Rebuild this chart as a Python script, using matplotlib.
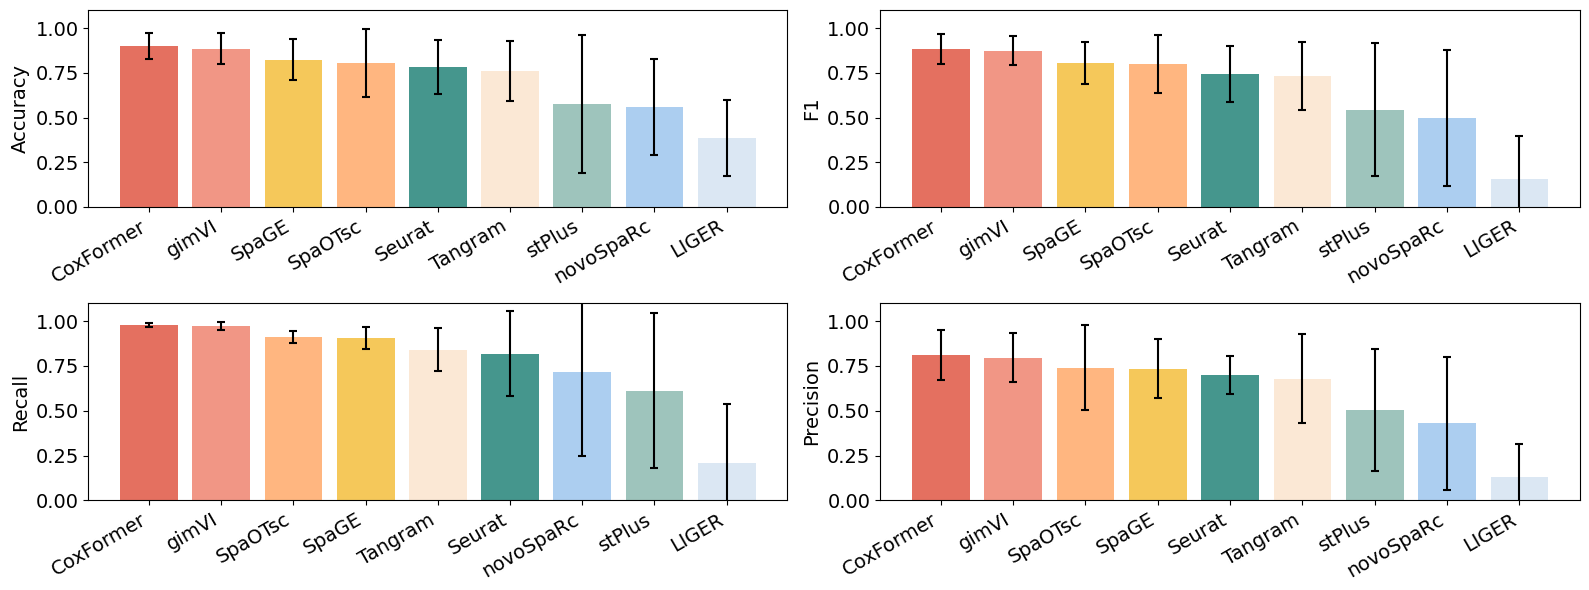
import matplotlib
matplotlib.use("Agg")
import matplotlib.pyplot as plt

# colores por metodo (iguales en los 4 paneles)
colores = {
    "CoxFormer": "#E47060",
    "gimVI": "#F19685",
    "SpaGE": "#F5C85A",
    "SpaOTsc": "#FFB680",
    "Seurat": "#45968D",
    "Tangram": "#FBE8D5",
    "stPlus": "#9EC4BC",
    "novoSpaRc": "#ACCEF0",
    "LIGER": "#DBE7F3",
}

acc_metodos = ["CoxFormer", "gimVI", "SpaGE", "SpaOTsc", "Seurat", "Tangram", "stPlus", "novoSpaRc", "LIGER"]
acc_media = [0.901, 0.884, 0.823, 0.806, 0.784, 0.761, 0.576, 0.560, 0.386]
acc_std = [0.073, 0.087, 0.115, 0.190, 0.150, 0.167, 0.385, 0.270, 0.210]

f1_metodos = ["CoxFormer", "gimVI", "SpaGE", "SpaOTsc", "Seurat", "Tangram", "stPlus", "novoSpaRc", "LIGER"]
f1_media = [0.884, 0.873, 0.806, 0.800, 0.744, 0.733, 0.543, 0.498, 0.157]
f1_std = [0.084, 0.081, 0.117, 0.163, 0.157, 0.190, 0.372, 0.380, 0.240]

rec_metodos = ["CoxFormer", "gimVI", "SpaOTsc", "SpaGE", "Tangram", "Seurat", "novoSpaRc", "stPlus", "LIGER"]
rec_media = [0.980, 0.974, 0.913, 0.907, 0.841, 0.819, 0.719, 0.613, 0.207]
rec_std = [0.010, 0.021, 0.033, 0.061, 0.120, 0.237, 0.473, 0.433, 0.330]

pre_metodos = ["CoxFormer", "gimVI", "SpaOTsc", "SpaGE", "Seurat", "Tangram", "stPlus", "novoSpaRc", "LIGER"]
pre_media = [0.813, 0.796, 0.741, 0.735, 0.702, 0.680, 0.502, 0.430, 0.130]
pre_std = [0.139, 0.136, 0.237, 0.164, 0.106, 0.250, 0.340, 0.372, 0.187]

paneles = [
    ("Accuracy", acc_metodos, acc_media, acc_std),
    ("F1", f1_metodos, f1_media, f1_std),
    ("Recall", rec_metodos, rec_media, rec_std),
    ("Precision", pre_metodos, pre_media, pre_std),
]

fig = plt.figure(figsize=(15.89, 5.9), dpi=100)
posiciones = [
    [0.0556, 0.6492, 0.4399, 0.3333],
    [0.5538, 0.6492, 0.4407, 0.3333],
    [0.0556, 0.1520, 0.4399, 0.3340],
    [0.5538, 0.1520, 0.4407, 0.3340],
]

for pos, (nombre, metodos, media, std) in zip(posiciones, paneles):
    ax = fig.add_axes(pos)
    x = range(len(metodos))
    ax.bar(x, media, yerr=std, color=[colores[m] for m in metodos],
           width=0.8, capsize=3, error_kw=dict(elinewidth=1.5, capthick=1.5, ecolor="black"))
    ax.set_ylim(0, 1.1)
    ax.set_yticks([0, 0.25, 0.5, 0.75, 1.0])
    ax.set_xticks(list(x))
    ax.set_xticklabels(metodos, rotation=30, ha="right", fontsize=14)
    ax.tick_params(axis="y", labelsize=14)
    ax.set_ylabel(nombre, fontsize=14)

fig.savefig("out.png", dpi=100)
